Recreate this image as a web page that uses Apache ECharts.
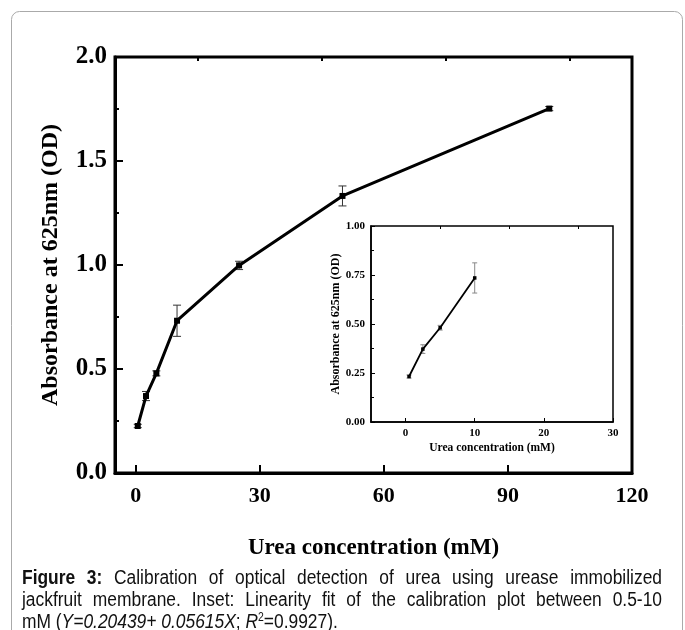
<!DOCTYPE html>
<html><head><meta charset="utf-8">
<script src="https://cdn.jsdelivr.net/npm/echarts@6/dist/echarts.min.js"></script>
<style>html,body{margin:0;padding:0;background:#fff}#c{width:685px;height:630px}</style>
</head><body><div id="c"></div>
<script>
// ---- data ----
const mainX = [0.5, 2.5, 5, 10, 25, 50, 100];
const mainY = [0.226, 0.37, 0.479, 0.732, 0.998, 1.332, 1.752];
const mainErr = [0.008, 0.022, 0.012, 0.075, 0.02, 0.048, 0.01];
const insetX = [0.5, 2.5, 5, 10];
const insetY = [0.232, 0.372, 0.481, 0.735];
const insetErr = [0.008, 0.022, 0.012, 0.077];
const mainXTicks = [0, 30, 60, 90, 120];
const mainXMinor = [15, 45, 75, 105];
const insetXTicks = [0, 10, 20, 30];
const insetXMinor = [5, 15, 25];
const xName = 'Urea concentration (mM)';
const yName = 'Absorbance at 625nm (OD)';
const captionLine1 = [['Figure', 'bold'], ['3:', 'bold'], ['Calibration'], ['of'], ['optical'], ['detection'], ['of'], ['urea'], ['using'], ['urease'], ['immobilized']];
const captionLine2 = ['jackfruit', 'membrane.', 'Inset:', 'Linearity', 'fit', 'of', 'the', 'calibration', 'plot', 'between', '0.5-10'];

const SERIF = '"Liberation Serif", "Times New Roman", serif';
const CAP = '"Liberation Sans", Arial, sans-serif';
const CAPSIZE = 20;
const CAPSCALE = 0.87;

function errRender(color, cap, lw) {
  return function (params, api) {
    const x = api.value(0), lo = api.value(1), hi = api.value(2);
    const p1 = api.coord([x, lo]), p2 = api.coord([x, hi]);
    const st = { stroke: color, lineWidth: lw };
    return { type: 'group', children: [
      { type: 'line', shape: { x1: p1[0], y1: p1[1], x2: p2[0], y2: p2[1] }, style: st },
      { type: 'line', shape: { x1: p1[0] - cap, y1: p1[1], x2: p1[0] + cap, y2: p1[1] }, style: st },
      { type: 'line', shape: { x1: p2[0] - cap, y1: p2[1], x2: p2[0] + cap, y2: p2[1] }, style: st }
    ]};
  };
}

// caption justification helpers
const cv = document.createElement('canvas').getContext('2d');
function measure(t, w) { cv.font = (w || 'normal') + ' ' + CAPSIZE + 'px ' + CAP; return cv.measureText(t).width * CAPSCALE; }
function justify(words, y, x0, x1) {
  const ws = words.map(w => Array.isArray(w) ? w : [w]);
  const widths = ws.map(w => measure(w[0], w[1]));
  const total = widths.reduce((a, b) => a + b, 0);
  const gap = (x1 - x0 - total) / (ws.length - 1);
  let x = x0; const out = [];
  ws.forEach((w, i) => {
    out.push({ type: 'text', x: x, y: y, scaleX: CAPSCALE, style: { text: w[0], font: (w[1] || 'normal') + ' ' + CAPSIZE + 'px ' + CAP, fill: '#111', verticalAlign: 'middle' } });
    x += widths[i] + gap;
  });
  return out;
}

const chart = echarts.init(document.getElementById('c'), null, { renderer: 'canvas' });
const graphics = [
  { type: 'rect', shape: { x: 11.5, y: 11.5, width: 671, height: 660, r: 8 }, style: { fill: 'none', stroke: '#aaa', lineWidth: 1 }, silent: true, z: -10 }
].concat(justify(captionLine1, 578, 22, 662), justify(captionLine2, 600, 22, 662), [
  { type: 'text', x: 22, y: 622, scaleX: CAPSCALE, style: {
      text: '{n|mM (}{i|Y=0.20439+ 0.05615X}{n|; }{i|R}{s|2}{n|=0.9927).}',
      verticalAlign: 'middle',
      rich: {
        n: { font: 'normal ' + CAPSIZE + 'px ' + CAP, fill: '#111' },
        i: { font: 'italic ' + CAPSIZE + 'px ' + CAP, fill: '#111' },
        s: { font: 'normal 12px ' + CAP, fill: '#111', verticalAlign: 'top', padding: [0, 0, 9, 0] }
      }
  } }
]);

const tickLbl = (size) => ({ fontFamily: SERIF, fontWeight: 'bold', fontSize: size, color: '#000' });

chart.setOption({
  animation: false,
  backgroundColor: '#fff',
  grid: [
    { left: 115, top: 57, right: 53, bottom: 157, show: true, borderColor: '#000', borderWidth: 3, backgroundColor: 'transparent' },
    { left: 371, top: 226, width: 242, height: 196, show: true, borderColor: '#000', borderWidth: 1.5, backgroundColor: '#fff' }
  ],
  xAxis: [
    { gridIndex: 0, type: 'value', min: -5, max: 120,
      axisLine: { onZero: false, lineStyle: { color: '#000', width: 3 } },
      axisTick: { inside: true, length: 8, lineStyle: { color: '#000', width: 2 }, customValues: mainXTicks },
      axisLabel: Object.assign({ customValues: mainXTicks, margin: 12 }, tickLbl(22)),
      splitLine: { show: false },
      name: xName, nameLocation: 'middle', nameGap: 64,
      nameTextStyle: { fontFamily: SERIF, fontWeight: 'bold', fontSize: 23, color: '#000' } },
    { gridIndex: 0, type: 'value', min: -5, max: 120,
      axisLine: { show: false, onZero: false },
      axisTick: { inside: true, length: 4, lineStyle: { color: '#000', width: 2 }, customValues: mainXMinor },
      axisLabel: { show: false }, splitLine: { show: false } },
    { gridIndex: 1, type: 'value', min: -5, max: 30,
      axisLine: { onZero: false, lineStyle: { color: '#000', width: 1.5 } },
      axisTick: { inside: true, length: 4, lineStyle: { color: '#000', width: 1 }, customValues: insetXTicks },
      axisLabel: Object.assign({ customValues: insetXTicks, margin: 6 }, tickLbl(11)),
      splitLine: { show: false },
      name: xName, nameLocation: 'middle', nameGap: 20,
      nameTextStyle: { fontFamily: SERIF, fontWeight: 'bold', fontSize: 11.5, color: '#000' } },
    { gridIndex: 1, type: 'value', min: -5, max: 30,
      axisLine: { show: false, onZero: false },
      axisTick: { inside: true, length: 3, lineStyle: { color: '#000', width: 1 }, customValues: insetXMinor },
      axisLabel: { show: false }, splitLine: { show: false } }
  ],
  yAxis: [
    { gridIndex: 0, type: 'value', min: 0, max: 2, interval: 0.5,
      axisLine: { onZero: false, lineStyle: { color: '#000', width: 3 } },
      axisTick: { inside: true, length: 8, lineStyle: { color: '#000', width: 2 } },
      minorTick: { show: true, splitNumber: 2, length: 4, lineStyle: { color: '#000', width: 2 } },
      axisLabel: Object.assign({ formatter: v => v.toFixed(1), margin: 8 }, tickLbl(25)),
      splitLine: { show: false }, minorSplitLine: { show: false },
      name: yName, nameLocation: 'middle', nameGap: 52,
      nameTextStyle: { fontFamily: SERIF, fontWeight: 'bold', fontSize: 24, color: '#000' } },
    { gridIndex: 1, type: 'value', min: 0, max: 1, interval: 0.25,
      axisLine: { onZero: false, lineStyle: { color: '#000', width: 1.5 } },
      axisTick: { inside: true, length: 4, lineStyle: { color: '#000', width: 1 } },
      minorTick: { show: true, splitNumber: 2, length: 3, lineStyle: { color: '#000', width: 1 } },
      axisLabel: Object.assign({ formatter: v => v.toFixed(2), margin: 6 }, tickLbl(11)),
      splitLine: { show: false }, minorSplitLine: { show: false },
      name: yName, nameLocation: 'middle', nameGap: 21,
      nameTextStyle: { fontFamily: SERIF, fontWeight: 'bold', fontSize: 12, color: '#000' } }
  ],
  series: [
    { type: 'custom', xAxisIndex: 0, yAxisIndex: 0, renderItem: errRender('#333', 4, 1), z: 3,
      data: mainX.map((x, i) => [x, mainY[i] - mainErr[i], mainY[i] + mainErr[i]]) },
    { type: 'line', xAxisIndex: 0, yAxisIndex: 0, data: mainX.map((x, i) => [x, mainY[i]]),
      lineStyle: { color: '#000', width: 3 }, itemStyle: { color: '#000' },
      symbol: 'rect', symbolSize: 6, showSymbol: true, z: 4 },
    { type: 'custom', xAxisIndex: 2, yAxisIndex: 1, renderItem: errRender('#888', 2.5, 1), z: 3,
      data: insetX.map((x, i) => [x, insetY[i] - insetErr[i], insetY[i] + insetErr[i]]) },
    { type: 'line', xAxisIndex: 2, yAxisIndex: 1, data: insetX.map((x, i) => [x, insetY[i]]),
      lineStyle: { color: '#000', width: 1.8 }, itemStyle: { color: '#000' },
      symbol: 'rect', symbolSize: 3.5, showSymbol: true, z: 4 }
  ],
  graphic: graphics
});
</script></body></html>
